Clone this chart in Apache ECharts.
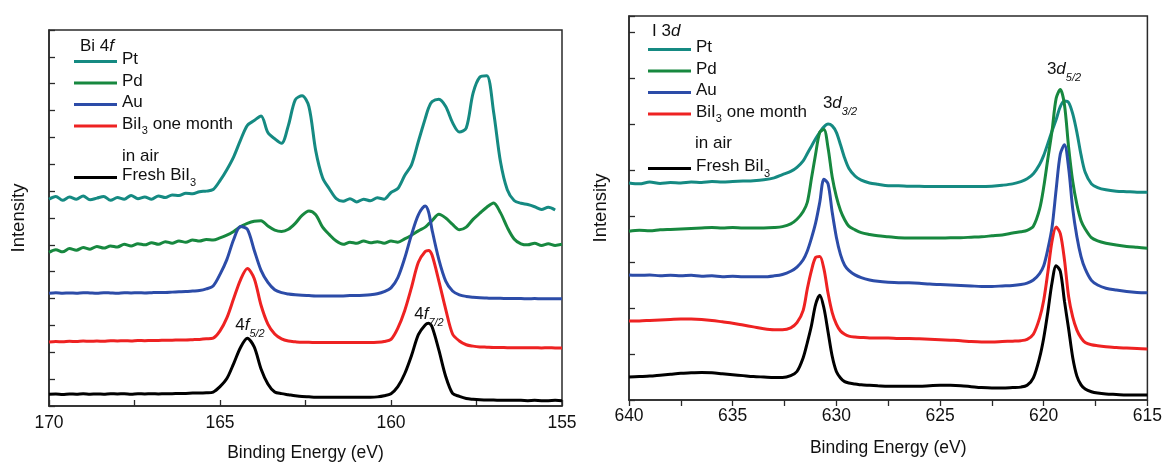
<!DOCTYPE html>
<html>
<head>
<meta charset="utf-8">
<script src="https://cdn.jsdelivr.net/npm/echarts@6/dist/echarts.min.js"></script>
<style>
html, body { margin: 0; padding: 0; background: #fff; }
#main { width: 1165px; height: 467px; }
</style>
</head>
<body>
<div id="main"></div>
<script>
'use strict';

// Bi 4f panel: binding energy grid (eV) and intensities (arbitrary units, offset traces)
let energyBi = [
	170.0, 169.8, 169.6, 169.4, 169.2, 169.0, 168.8, 168.6, 168.4, 168.2,
	168.0, 167.8, 167.6, 167.4, 167.2, 167.0, 166.8, 166.6, 166.4, 166.2,
	166.0, 165.8, 165.6, 165.4, 165.2, 165.0, 164.8, 164.6, 164.4, 164.2,
	164.0, 163.8, 163.6, 163.4, 163.2, 163.0, 162.8, 162.6, 162.4, 162.2,
	162.0, 161.8, 161.6, 161.4, 161.2, 161.0, 160.8, 160.6, 160.4, 160.2,
	160.0, 159.8, 159.6, 159.4, 159.2, 159.0, 158.9, 158.8, 158.6, 158.4,
	158.2, 158.0, 157.8, 157.6, 157.4, 157.2, 157.0, 156.8, 156.6, 156.4,
	156.2, 156.0, 155.8, 155.6, 155.4, 155.2, 155.0
];
let ptBi = [
	7.70, 7.80, 7.66, 7.78, 7.70, 7.82, 7.68, 7.74, 7.80, 7.66,
	7.76, 7.70, 7.84, 7.72, 7.78, 7.70, 7.82, 7.76, 7.86, 7.84,
	7.92, 7.90, 7.98, 8.00, 8.06, 8.39, 8.80, 9.28, 9.90, 10.45,
	10.63, 10.80, 10.18, 9.95, 9.78, 10.45, 11.40, 11.55, 11.15, 9.50,
	8.50, 8.08, 7.72, 7.62, 7.72, 7.60, 7.70, 7.64, 7.75, 7.70,
	7.95, 8.10, 8.58, 8.98, 9.85, 10.70, 11.10, 11.33, 11.42, 11.15,
	10.55, 10.20, 10.35, 11.65, 12.25, 12.30, 10.95, 9.10, 8.05, 7.65,
	7.55, 7.50, 7.42, 7.32, 7.40, 7.30, null
];
let pdBi = [
	5.72, 5.82, 5.74, 5.86, 5.80, 5.90, 5.84, 5.94, 5.88, 5.96,
	5.92, 6.02, 5.96, 6.04, 6.00, 6.08, 6.02, 6.12, 6.06, 6.14,
	6.10, 6.18, 6.14, 6.20, 6.18, 6.26, 6.36, 6.50, 6.68, 6.80,
	6.88, 6.90, 6.70, 6.55, 6.50, 6.58, 6.80, 7.10, 7.26, 7.12,
	6.66, 6.38, 6.14, 6.02, 6.10, 6.06, 6.14, 6.08, 6.12, 6.06,
	6.14, 6.10, 6.22, 6.36, 6.52, 6.66, 6.78, 6.90, 7.14, 7.00,
	6.76, 6.56, 6.66, 6.95, 7.18, 7.40, 7.56, 7.20, 6.65, 6.22,
	6.04, 6.00, 6.06, 5.98, 6.04, 5.98, 6.02
];
let auBi = [
	4.20, 4.22, 4.20, 4.21, 4.20, 4.22, 4.21, 4.20, 4.22, 4.21,
	4.20, 4.22, 4.21, 4.22, 4.21, 4.22, 4.23, 4.23, 4.24, 4.25,
	4.26, 4.28, 4.30, 4.36, 4.47, 4.90, 5.45, 6.20, 6.68, 6.58,
	5.80, 5.05, 4.60, 4.33, 4.22, 4.17, 4.14, 4.12, 4.11, 4.10,
	4.10, 4.10, 4.10, 4.10, 4.11, 4.11, 4.12, 4.14, 4.18, 4.26,
	4.40, 4.78, 5.50, 6.38, 7.12, 7.45, 7.22, 6.56, 5.45, 4.65,
	4.28, 4.14, 4.08, 4.05, 4.03, 4.02, 4.01, 4.01, 4.00, 4.00,
	4.00, 3.99, 4.00, 3.99, 3.99, 3.99, 3.99
];
let airBi = [
	2.38, 2.40, 2.39, 2.41, 2.40, 2.42, 2.41, 2.42, 2.41, 2.43,
	2.42, 2.43, 2.42, 2.44, 2.43, 2.44, 2.44, 2.45, 2.45, 2.46,
	2.46, 2.47, 2.48, 2.50, 2.53, 2.80, 3.28, 4.00, 4.70, 5.12,
	4.75, 3.75, 3.05, 2.68, 2.50, 2.42, 2.39, 2.37, 2.37, 2.36,
	2.36, 2.36, 2.36, 2.36, 2.36, 2.36, 2.36, 2.36, 2.37, 2.40,
	2.48, 2.90, 3.55, 4.42, 5.35, 5.75, 5.79, 5.62, 4.65, 3.60,
	2.68, 2.42, 2.28, 2.23, 2.20, 2.19, 2.18, 2.18, 2.17, 2.17,
	2.17, 2.17, 2.17, 2.16, 2.17, 2.16, 2.16
];
let freshBi = [
	0.44, 0.45, 0.43, 0.45, 0.44, 0.46, 0.44, 0.45, 0.44, 0.46,
	0.45, 0.46, 0.44, 0.46, 0.45, 0.46, 0.45, 0.46, 0.46, 0.47,
	0.47, 0.48, 0.48, 0.49, 0.52, 0.72, 1.02, 1.58, 2.18, 2.52,
	2.20, 1.38, 0.82, 0.52, 0.46, 0.42, 0.38, 0.35, 0.34, 0.33,
	0.33, 0.33, 0.33, 0.33, 0.33, 0.33, 0.33, 0.33, 0.34, 0.38,
	0.46, 0.72, 1.20, 1.88, 2.66, 3.02, 3.08, 2.95, 2.08, 1.10,
	0.47, 0.36, 0.28, 0.25, 0.23, 0.22, 0.22, 0.21, 0.21, 0.21,
	0.21, 0.20, 0.21, 0.20, 0.20, 0.21, 0.20
];

// I 3d panel
let energyI = [
	640, 639.5, 639, 638.5, 638, 637.5, 637, 636.5, 636, 635.5,
	635, 634.5, 634, 633.5, 633, 632.6, 632.2, 631.9, 631.6, 631.4,
	631.2, 631.0, 630.8, 630.6, 630.4, 630.2, 630.0, 629.8, 629.6, 629.4,
	629.1, 628.8, 628.4, 628, 627.5, 627, 626.5, 626, 625.5, 625,
	624.5, 624, 623.5, 623, 622.5, 622, 621.5, 621.1, 620.8, 620.5,
	620.2, 620.0, 619.8, 619.6, 619.4, 619.2, 619.0, 618.8, 618.6, 618.4,
	618.2, 618.0, 617.7, 617.4, 617, 616.5, 616, 615.5, 615
];
let ptI = [
	4.72, 4.70, 4.74, 4.71, 4.73, 4.72, 4.74, 4.73, 4.75, 4.74,
	4.75, 4.76, 4.77, 4.79, 4.83, 4.90, 4.97, 5.06, 5.20, 5.36,
	5.52, 5.68, 5.82, 5.94, 6.00, 5.96, 5.82, 5.55, 5.26, 5.04,
	4.87, 4.78, 4.72, 4.69, 4.66, 4.66, 4.65, 4.65, 4.64, 4.64,
	4.64, 4.64, 4.64, 4.64, 4.65, 4.67, 4.70, 4.75, 4.81, 4.92,
	5.12, 5.32, 5.58, 5.85, 6.10, 6.38, 6.50, 6.47, 6.22, 5.82,
	5.33, 4.95, 4.70, 4.62, 4.57, 4.54, 4.53, 4.52, 4.52
];
let pdI = [
	3.67, 3.69, 3.68, 3.70, 3.71, 3.72, 3.73, 3.74, 3.75, 3.74,
	3.75, 3.74, 3.74, 3.74, 3.75, 3.77, 3.83, 3.93, 4.10, 4.30,
	4.82, 5.35, 5.82, 5.88, 5.48, 4.85, 4.42, 4.12, 3.92, 3.78,
	3.70, 3.64, 3.60, 3.57, 3.55, 3.53, 3.52, 3.52, 3.52, 3.52,
	3.53, 3.53, 3.54, 3.55, 3.57, 3.59, 3.63, 3.66, 3.69, 3.78,
	4.15, 4.63, 5.25, 5.85, 6.56, 6.75, 6.42, 5.50, 4.75, 4.25,
	3.90, 3.72, 3.53, 3.46, 3.41, 3.37, 3.34, 3.32, 3.30
];
let auI = [
	2.72, 2.71, 2.72, 2.70, 2.71, 2.70, 2.71, 2.69, 2.70, 2.68,
	2.69, 2.68, 2.68, 2.68, 2.70, 2.73, 2.80, 2.89, 3.05, 3.24,
	3.52, 3.85, 4.30, 4.80, 4.70, 4.08, 3.54, 3.16, 2.93, 2.82,
	2.72, 2.66, 2.61, 2.58, 2.56, 2.55, 2.55, 2.54, 2.52, 2.51,
	2.50, 2.49, 2.48, 2.47, 2.47, 2.48, 2.49, 2.51, 2.54, 2.61,
	2.75, 2.92, 3.28, 3.75, 4.58, 5.35, 5.55, 5.05, 4.15, 3.55,
	3.12, 2.85, 2.60, 2.50, 2.43, 2.39, 2.36, 2.34, 2.33
];
let airI = [
	1.72, 1.72, 1.73, 1.74, 1.75, 1.76, 1.76, 1.75, 1.73, 1.70,
	1.67, 1.63, 1.59, 1.55, 1.53, 1.53, 1.57, 1.68, 1.95, 2.42,
	2.82, 3.10, 3.12, 2.85, 2.32, 1.90, 1.65, 1.50, 1.43, 1.39,
	1.37, 1.36, 1.35, 1.35, 1.35, 1.34, 1.34, 1.33, 1.32, 1.31,
	1.30, 1.29, 1.27, 1.26, 1.26, 1.27, 1.28, 1.29, 1.32, 1.43,
	1.78, 2.17, 2.78, 3.45, 3.76, 3.62, 3.05, 2.25, 1.80, 1.52,
	1.35, 1.25, 1.20, 1.18, 1.16, 1.14, 1.13, 1.12, 1.11
];
let freshI = [
	0.50, 0.51, 0.52, 0.54, 0.56, 0.58, 0.59, 0.60, 0.59, 0.57,
	0.55, 0.53, 0.51, 0.50, 0.49, 0.49, 0.53, 0.62, 0.92, 1.25,
	1.62, 2.08, 2.28, 2.00, 1.48, 0.95, 0.62, 0.48, 0.40, 0.37,
	0.35, 0.33, 0.32, 0.31, 0.30, 0.30, 0.30, 0.30, 0.31, 0.32,
	0.32, 0.31, 0.29, 0.27, 0.26, 0.26, 0.27, 0.28, 0.32, 0.48,
	0.92, 1.35, 1.92, 2.55, 2.92, 2.80, 2.15, 1.55, 0.92, 0.52,
	0.33, 0.24, 0.18, 0.15, 0.13, 0.12, 0.11, 0.11, 0.11
];

let sampleNames = ['Pt', 'Pd', 'Au', 'air', 'fresh'];
let sampleColors = ['#158a82', '#17883f', '#2c4ca8', '#ee2222', '#000000'];

const FONT = 'Liberation Sans, Arial, sans-serif';
const AXIS_COLOR = '#2a2a2a';

let myChart = echarts.init(document.getElementById('main'));

function pairs(xs, ys) {
	return xs.map((x, i) => [x, ys[i]]);
}

let biSets = [ptBi, pdBi, auBi, airBi, freshBi];
let iSets = [ptI, pdI, auI, airI, freshI];

let series = [];
sampleNames.forEach((name, k) => {
	series.push({
		name: name, type: 'line', xAxisIndex: 0, yAxisIndex: 0,
		data: pairs(energyBi, biSets[k]), showSymbol: false, symbol: 'none',
		smooth: 0.3, color: sampleColors[k], lineStyle: { width: 3 }
	});
});
sampleNames.forEach((name, k) => {
	series.push({
		name: name, type: 'line', xAxisIndex: 1, yAxisIndex: 1,
		data: pairs(energyI, iSets[k]), showSymbol: false, symbol: 'none',
		smooth: 0.3, color: sampleColors[k], lineStyle: { width: 3 }
	});
});

let legendRich = {
	a: { fontSize: 17, fontFamily: FONT, color: '#111', padding: [0, 0, 4, 0], verticalAlign: 'bottom' },
	s: { fontSize: 11, fontFamily: FONT, color: '#111', verticalAlign: 'bottom' }
};
let legendNames = {
	Pt: '{a|Pt}',
	Pd: '{a|Pd}',
	Au: '{a|Au}',
	air: '{a|BiI}{s|3}{a| one month}',
	fresh: '{a|Fresh BiI}{s|3}'
};

function legend(left, top, data) {
	return {
		data: data, left: left, top: top, orient: 'vertical', padding: 0,
		icon: 'rect', itemWidth: 43, itemHeight: 3, itemGap: 4.5,
		selectedMode: false,
		formatter: (n) => legendNames[n],
		textStyle: { fontSize: 17, fontFamily: FONT, color: '#111', rich: legendRich }
	};
}

function xAxis(grid, min, max, inside) {
	return {
		gridIndex: grid, type: 'value', min: min, max: max, interval: 5, inverse: true,
		axisLine: { show: true, lineStyle: { color: AXIS_COLOR, width: 1.5 } },
		axisTick: { show: true, inside: inside, length: 6, lineStyle: { color: AXIS_COLOR, width: 1.3 } },
		minorTick: { show: true, splitNumber: 2, length: 6, lineStyle: { color: AXIS_COLOR, width: 1.3 } },
		axisLabel: { fontSize: 17.5, fontFamily: FONT, color: '#111', margin: inside ? 8 : 7 },
		splitLine: { show: false },
		name: 'Binding Energy (eV)', nameLocation: 'middle', nameGap: inside ? 38 : 39,
		nameTextStyle: { fontSize: 17.5, fontFamily: FONT, color: '#111' }
	};
}

function yAxis(grid, max, gap) {
	return {
		gridIndex: grid, type: 'value', min: 0, max: max, interval: 1,
		axisLine: { show: true, lineStyle: { color: AXIS_COLOR, width: 1.5 } },
		axisTick: { show: true, inside: true, length: 6, lineStyle: { color: AXIS_COLOR, width: 1.3 } },
		axisLabel: { show: false },
		splitLine: { show: false },
		name: 'Intensity', nameLocation: 'middle', nameGap: gap,
		nameTextStyle: { fontSize: 18.5, fontFamily: FONT, color: '#111' }
	};
}

let noteRich = {
	n: { fontSize: 17, fontFamily: FONT, fill: '#111', padding: [0, 0, 5, 0], verticalAlign: 'bottom' },
	i: { fontSize: 17, fontFamily: FONT, fontStyle: 'italic', fill: '#111', padding: [0, 0, 5, 0], verticalAlign: 'bottom' },
	s: { fontSize: 11, fontFamily: FONT, fontStyle: 'italic', fill: '#111', verticalAlign: 'bottom' }
};

function note(x, y, text, align) {
	return {
		type: 'text', x: x, y: y, z: 100,
		style: { text: text, rich: noteRich, align: align || 'center', verticalAlign: 'middle', fill: '#111' }
	};
}

let option = {
	animation: false,
	backgroundColor: '#fff',
	grid: [
		{ left: 49, right: 603, top: 30, bottom: 55, show: true, borderColor: AXIS_COLOR, borderWidth: 1.5, backgroundColor: 'transparent' },
		{ left: 629, right: 16, top: 16, bottom: 67, show: true, borderColor: AXIS_COLOR, borderWidth: 1.5, backgroundColor: 'transparent' }
	],
	xAxis: [xAxis(0, 155, 170, true), xAxis(1, 615, 640, false)],
	yAxis: [yAxis(0, 14, 21), yAxis(1, 8.35, 19)],
	legend: [
		legend(74, 51, ['Pt', 'Pd', 'Au', 'air']),
		legend(74, 167, ['fresh']),
		legend(648, 39, ['Pt', 'Pd', 'Au', 'air']),
		legend(648, 158, ['fresh'])
	],
	graphic: [
		note(80, 49, '{n|Bi 4}{i|f}', 'left'),
		note(652, 34, '{n|I 3}{i|d}', 'left'),
		note(122, 159, '{n|in air}', 'left'),
		note(695, 146, '{n|in air}', 'left'),
		note(250, 328, '{n|4}{i|f}{s|5/2}'),
		note(429, 317, '{n|4}{i|f}{s|7/2}'),
		note(840, 106, '{n|3}{i|d}{s|3/2}'),
		note(1064, 72, '{n|3}{i|d}{s|5/2}')
	],
	series: series
};

myChart.setOption(option);
</script>
</body>
</html>
